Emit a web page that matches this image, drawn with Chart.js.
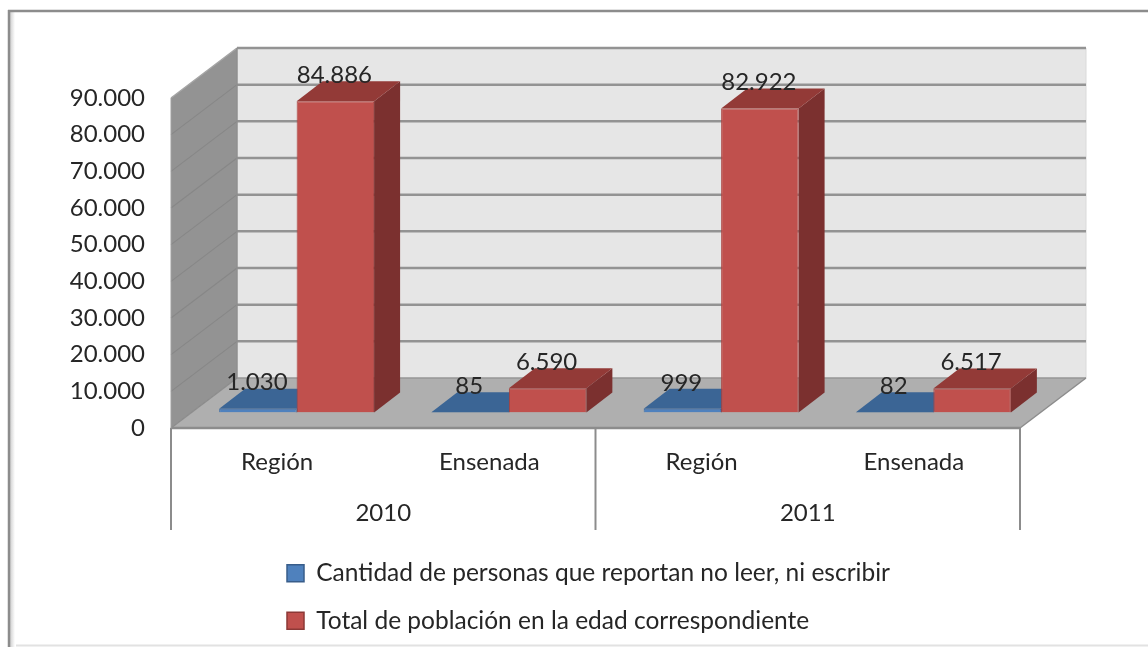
<!DOCTYPE html>
<html>
<head>
<meta charset="utf-8">
<style>html,body{margin:0;padding:0;background:#fff}canvas{display:block;filter:blur(0.45px)}</style>
<script src="https://cdn.jsdelivr.net/npm/chart.js@4"></script>
</head>
<body>
<canvas id="c" width="1148" height="647"></canvas>
<script>
const categories = ['Región', 'Ensenada', 'Región', 'Ensenada'];
const years = ['2010', '2011'];
const seriesNames = ['Cantidad de personas que reportan no leer, ni escribir', 'Total de población en la edad correspondiente'];
const noLeer = [1030, 85, 999, 82];
const totalPoblacion = [84886, 6590, 82922, 6517];

const fontName = 'Lato, "Open Sans", sans-serif';
const textColor = '#262626';
const fmt = v => String(v).replace(/\B(?=(\d{3})+(?!\d))/g, '.');
const palette = [
  { front: '#4F81BD', border: '#3F6EA8', legend: '#385D8A', top: '#3B6595', side: '#2F5078' },
  { front: '#C0504D', border: '#A9413E', legend: '#8C3836', top: '#933A37', side: '#7B302F' }
];
const wall = { dx: 66, dy: -50 };     // room depth
const barPlane = { dx: 19.5, dy: -15.5 }; // where the bars stand in the room
const barDepth = { dx: 26, dy: -20 };

function poly(ctx, pts, fill, stroke, lw) {
  ctx.beginPath();
  pts.forEach((p, i) => i ? ctx.lineTo(p[0], p[1]) : ctx.moveTo(p[0], p[1]));
  ctx.closePath();
  if (fill) { ctx.fillStyle = fill; ctx.fill(); }
  if (stroke) { ctx.strokeStyle = stroke; ctx.lineWidth = lw || 1; ctx.stroke(); }
}
function line(ctx, x1, y1, x2, y2, color, lw) {
  ctx.beginPath(); ctx.moveTo(x1, y1); ctx.lineTo(x2, y2);
  ctx.strokeStyle = color; ctx.lineWidth = lw; ctx.stroke();
}

const room3d = {
  id: 'room3d',
  afterLayout(chart) {
    const lg = chart.legend;
    if (lg) {
      lg.left = 264; lg.top = 538; lg.right = lg.left + lg.width; lg.bottom = lg.top + lg.height;
    }
  },
  beforeDraw(chart) {
    const ctx = chart.ctx;
    ctx.save();
    // outer frame with soft shadow
    const g = ctx.createLinearGradient(10, 0, 15, 0);
    g.addColorStop(0, '#cfcfcf'); g.addColorStop(1, '#ffffff');
    ctx.fillStyle = g; ctx.fillRect(10, 12, 6, 635);
    line(ctx, 9, 10, 9, 647, '#8c8c8c', 2.5);
    line(ctx, 8, 11, 1148, 11, '#8c8c8c', 2.5);
    line(ctx, 16, 645.5, 1148, 645.5, '#e2e2e2', 2);
    ctx.restore();
  },
  beforeDatasetsDraw(chart) {
    const ctx = chart.ctx, y = chart.scales.y, x = chart.scales.x;
    const L = x.left, R = x.right, B = y.bottom, T = y.top;
    const d = wall;
    ctx.save();
    poly(ctx, [[L + d.dx, T + d.dy], [R + d.dx, T + d.dy], [R + d.dx, B + d.dy], [L + d.dx, B + d.dy]], '#E6E6E6');
    line(ctx, R + d.dx, T + d.dy, R + d.dx, B + d.dy, '#dadada', 1);
    poly(ctx, [[L, T], [L + d.dx, T + d.dy], [L + d.dx, B + d.dy], [L, B]], '#939393');
    y.ticks.forEach(t => {
      const py = y.getPixelForValue(t.value);
      if (t.value > 0) line(ctx, L + d.dx, py + d.dy, R + d.dx, py + d.dy, '#939393', 2.5);
      if (t.value > 0 && t.value < y.max) line(ctx, L, py, L + d.dx, py + d.dy, '#878787', 1.1);
    });
    line(ctx, L, T, L + d.dx, T + d.dy, '#a5a5a5', 1.5);
    line(ctx, L + d.dx, T + d.dy, L + d.dx, B + d.dy, '#8f8f8f', 1.5);
    poly(ctx, [[L, B], [R, B], [R + d.dx, B + d.dy], [L + d.dx, B + d.dy]], '#AFAFAF');
    line(ctx, L + d.dx, B + d.dy, R + d.dx, B + d.dy, '#969696', 1.5);
    line(ctx, R, B, R + d.dx, B + d.dy, '#8c8c8c', 1.5);
    line(ctx, L, B, L + d.dx, B + d.dy, '#8c8c8c', 1.5);
    line(ctx, L, B, R, B, '#8c8c8c', 2.5);
    line(ctx, L, T, L, B, '#a0a0a0', 1);
    // multi-level category separators
    [L, (L + R) / 2, R].forEach(px => line(ctx, px, B, px, 530, '#8c8c8c', 2));
    // depth faces of every bar, blue first, so the red fronts cover them
    ctx.translate(barPlane.dx, barPlane.dy);
    chart.data.datasets.forEach((ds, i) => {
      const col = palette[i];
      chart.getDatasetMeta(i).data.forEach(el => {
        const a = el.x - el.width / 2, b = el.x + el.width / 2, t = el.y, f = el.base;
        const dx = barDepth.dx, dy = barDepth.dy;
        poly(ctx, [[b, t], [b, f], [b + dx, f + dy], [b + dx, t + dy]], col.side);
        poly(ctx, [[a, t], [b, t], [b + dx, t + dy], [a + dx, t + dy]], col.top);
      });
    });
    ctx.restore();
  },
  beforeDatasetDraw(chart) {
    chart.ctx.save();
    chart.ctx.translate(barPlane.dx, barPlane.dy);
  },
  afterDatasetDraw(chart) {
    chart.ctx.restore();
  },
  afterDatasetsDraw(chart) {
    const ctx = chart.ctx;
    ctx.save();
    ctx.font = '24px ' + fontName;
    ctx.fillStyle = textColor;
    ctx.textAlign = 'center';
    ctx.textBaseline = 'middle';
    chart.data.datasets.forEach((ds, i) => {
      chart.getDatasetMeta(i).data.forEach((el, j) => {
        ctx.fillText(fmt(ds.data[j]), el.x + barPlane.dx - 1, el.y + barPlane.dy - 26);
      });
    });
    ctx.restore();
  }
};

new Chart(document.getElementById('c'), {
  type: 'bar',
  data: {
    labels: categories,
    datasets: [
      { label: seriesNames[0], data: noLeer, xAxisID: 'x', yAxisID: 'y',
        backgroundColor: palette[0].front, borderColor: palette[0].border, borderWidth: 1,
        categoryPercentage: 0.73, barPercentage: 1 },
      { label: seriesNames[1], data: totalPoblacion, xAxisID: 'x', yAxisID: 'y',
        backgroundColor: palette[1].front, borderColor: palette[1].border, borderWidth: 1,
        categoryPercentage: 0.73, barPercentage: 1 }
    ]
  },
  options: {
    responsive: false,
    animation: false,
    layout: { padding: { left: 0, top: 98, right: 128, bottom: 111 } },
    plugins: {
      tooltip: { enabled: false },
      title: { display: false },
      legend: {
        display: true,
        position: 'chartArea',
        align: 'start',
        labels: {
          boxWidth: 17, boxHeight: 17, padding: 23,
          color: textColor,
          font: { family: fontName, size: 24.5 },
          generateLabels(chart) {
            return Chart.defaults.plugins.legend.labels.generateLabels(chart).map(item =>
              Object.assign(item, { strokeStyle: palette[item.datasetIndex].legend, lineWidth: 1.5 }));
          }
        }
      }
    },
    scales: {
      y: {
        min: 0, max: 90000,
        afterFit(s) { s.width = 171; },
        grid: { display: false },
        border: { display: false },
        ticks: {
          stepSize: 10000, padding: 18, color: textColor,
          font: { family: fontName, size: 24 },
          callback: v => fmt(v)
        }
      },
      x: {
        type: 'category', position: 'bottom', weight: 0,
        afterFit(s) { s.height = 58; },
        grid: { display: false },
        border: { display: false },
        ticks: {
          padding: 12, color: textColor, maxRotation: 0, autoSkip: false,
          font: { family: fontName, size: 24 }
        }
      },
      x2: {
        type: 'category', labels: years, position: 'bottom', weight: 1,
        afterFit(s) { s.height = 50; },
        grid: { display: false },
        border: { display: false },
        ticks: {
          padding: 5, color: textColor, maxRotation: 0, autoSkip: false,
          font: { family: fontName, size: 24 }
        }
      }
    }
  },
  plugins: [room3d]
});
</script>
</body>
</html>
